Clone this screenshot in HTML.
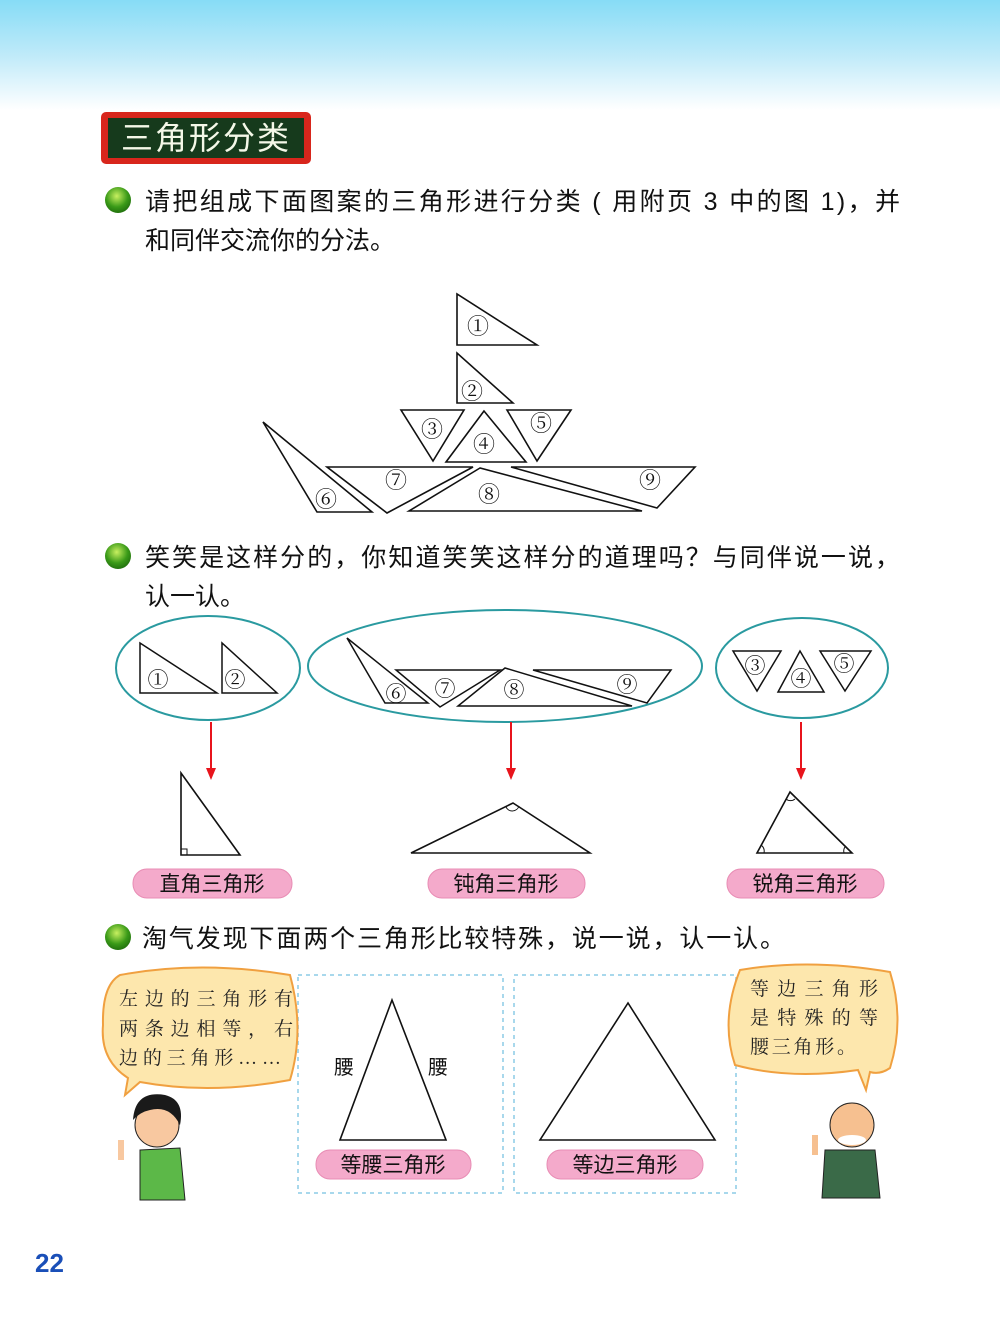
<!DOCTYPE html>
<html><head><meta charset="utf-8"><style>
html,body{margin:0;padding:0;background:#fff;}
svg{display:block;}
text{font-family:"Liberation Sans","Noto Sans CJK SC",sans-serif;}
.n{font-family:"Liberation Serif","Noto Serif CJK SC",serif;}
</style></head><body>
<svg width="1000" height="1336" viewBox="0 0 1000 1336" xmlns="http://www.w3.org/2000/svg">
<defs>
<linearGradient id="sky" x1="0" y1="0" x2="0" y2="1">
<stop offset="0" stop-color="#86dcf6"/><stop offset="0.5" stop-color="#bfeaf9"/><stop offset="1" stop-color="#ffffff"/>
</linearGradient>
<radialGradient id="ball" cx="0.45" cy="0.35" r="0.7">
<stop offset="0" stop-color="#c8f060"/><stop offset="0.6" stop-color="#3a9a18"/><stop offset="1" stop-color="#1d6a0c"/>
</radialGradient>
</defs>
<rect x="0" y="0" width="1000" height="110" fill="url(#sky)"/>

<rect x="101" y="112" width="210" height="52" rx="5" fill="#d8261c"/>
<rect x="108" y="118" width="196" height="40" fill="#163a1c"/>
<text x="206" y="149" font-size="32" fill="#f4f8e8" text-anchor="middle" letter-spacing="2">三角形分类</text>

<circle cx="118" cy="200" r="13" fill="url(#ball)"/>
<text x="145" y="210" font-size="25" fill="#111" textLength="755" lengthAdjust="spacing">请把组成下面图案的三角形进行分类 ( 用附页 3 中的图 1)，并</text>
<text x="145" y="249" font-size="25" fill="#111">和同伴交流你的分法。</text>
<circle cx="118" cy="556" r="13" fill="url(#ball)"/>
<text x="145" y="566" font-size="25" fill="#111" textLength="755" lengthAdjust="spacing">笑笑是这样分的，你知道笑笑这样分的道理吗？与同伴说一说，</text>
<text x="145" y="605" font-size="25" fill="#111">认一认。</text>
<circle cx="118" cy="937" r="13" fill="url(#ball)"/>
<text x="142" y="947" font-size="25" fill="#111" textLength="643" lengthAdjust="spacing">淘气发现下面两个三角形比较特殊，说一说，认一认。</text>

<g fill="#fff" stroke="#111" stroke-width="1.6">
<polygon points="457,294 457,345 537,345"/>
<polygon points="457,353 457,403 513,403"/>
<polygon points="401,410 464,410 433,461"/>
<polygon points="484,411 446,462 526,462"/>
<polygon points="507,410 571,410 537,461"/>
<polygon points="263,422 317,512 372,512"/>
<polygon points="327,467 473,467 387,513"/>
<polygon points="480,468 409,511 642,511"/>
<polygon points="511,467 695,467 657,508"/>
</g>
<g font-size="22" fill="#111" text-anchor="middle">
<text class="n" x="478" y="334">①</text>
<text class="n" x="472" y="399">②</text>
<text class="n" x="432" y="437">③</text>
<text class="n" x="484" y="452">④</text>
<text class="n" x="541" y="431">⑤</text>
<text class="n" x="326" y="507">⑥</text>
<text class="n" x="396" y="488">⑦</text>
<text class="n" x="489" y="502">⑧</text>
<text class="n" x="650" y="488">⑨</text>
</g>

<g fill="none" stroke="#2a9aa0" stroke-width="2">
<ellipse cx="208" cy="668" rx="92" ry="52"/>
<ellipse cx="505" cy="666" rx="197" ry="56"/>
<ellipse cx="802" cy="668" rx="86" ry="50"/>
</g>
<g fill="#fff" stroke="#111" stroke-width="1.5">
<polygon points="140,643 140,693 217,693"/>
<polygon points="222,643 222,693 277,693"/>
<polygon points="347,638 385,703 428,703"/>
<polygon points="396,670 500,670 440,707"/>
<polygon points="505,668 458,706 632,706"/>
<polygon points="533,670 671,670 647,703"/>
<polygon points="733,651 781,651 757,691"/>
<polygon points="800,651 778,692 824,692"/>
<polygon points="820,651 871,651 845,691"/>
</g>
<g font-size="21" fill="#111" text-anchor="middle">
<text class="n" x="158" y="687">①</text>
<text class="n" x="235" y="687">②</text>
<text class="n" x="396" y="701">⑥</text>
<text class="n" x="445" y="696">⑦</text>
<text class="n" x="514" y="697">⑧</text>
<text class="n" x="627" y="692">⑨</text>
<text class="n" x="755" y="673">③</text>
<text class="n" x="801" y="686">④</text>
<text class="n" x="844" y="671">⑤</text>
</g>

<g stroke="#e8141c" stroke-width="2">
<line x1="211" y1="722" x2="211" y2="770"/>
<line x1="511" y1="722" x2="511" y2="770"/>
<line x1="801" y1="722" x2="801" y2="770"/>
</g>
<g fill="#e8141c">
<polygon points="206,768 216,768 211,780"/>
<polygon points="506,768 516,768 511,780"/>
<polygon points="796,768 806,768 801,780"/>
</g>

<g fill="none" stroke="#111" stroke-width="1.6">
<polygon points="181,773 181,855 240,855"/>
<polyline points="181,849 187,849 187,855" stroke-width="1"/>
<polygon points="411,853 513,803 590,853"/>
<path d="M506,807 A7,7 0 0 0 519,806" stroke-width="1"/>
<polygon points="790,792 757,853 852,853"/>
<path d="M786,799 A7,7 0 0 0 795,799" stroke-width="1"/>
<path d="M761,845 A8,8 0 0 1 764,853" stroke-width="1"/>
<path d="M846,846 A7,7 0 0 0 844,853" stroke-width="1"/>
</g>

<g fill="#f4aacb" stroke="#e88cb4" stroke-width="1">
<rect x="133" y="869" width="159" height="29" rx="14"/>
<rect x="428" y="869" width="157" height="29" rx="14"/>
<rect x="727" y="869" width="157" height="29" rx="14"/>
<rect x="316" y="1150" width="155" height="29" rx="14"/>
<rect x="547" y="1150" width="156" height="29" rx="14"/>
</g>
<g font-size="21" fill="#111" text-anchor="middle">
<text x="212" y="891">直角三角形</text>
<text x="506" y="891">钝角三角形</text>
<text x="805" y="891">锐角三角形</text>
<text x="393" y="1172">等腰三角形</text>
<text x="625" y="1172">等边三角形</text>
</g>

<g fill="none" stroke="#a8d8ec" stroke-width="2" stroke-dasharray="4,4">
<rect x="298" y="975" width="205" height="218"/>
<rect x="514" y="975" width="222" height="218"/>
</g>
<g fill="none" stroke="#111" stroke-width="1.6">
<polygon points="392,1000 340,1140 446,1140"/>
<polygon points="628,1003 540,1140 715,1140"/>
</g>
<text x="344" y="1074" font-size="20" fill="#111" text-anchor="middle">腰</text>
<text x="438" y="1074" font-size="20" fill="#111" text-anchor="middle">腰</text>

<path d="M120,975 Q200,960 290,975 Q305,1030 290,1080 Q210,1095 140,1082 L125,1095 L128,1078 Q100,1060 103,1025 Q102,985 120,975 Z" fill="#fde7ad" stroke="#f0a040" stroke-width="2"/>
<g font-size="19" fill="#222">
<text class="n" x="119" y="1005" textLength="174" lengthAdjust="spacing">左边的三角形有</text>
<text class="n" x="119" y="1035" textLength="174" lengthAdjust="spacing">两条边相等，右</text>
<text class="n" x="119" y="1064" textLength="162" lengthAdjust="spacing">边的三角形……</text>
</g>
<path d="M740,970 Q810,958 890,972 Q905,1020 890,1068 Q880,1075 870,1072 L866,1090 L858,1070 Q790,1080 735,1065 Q720,1020 740,970 Z" fill="#fde7ad" stroke="#f0a040" stroke-width="2"/>
<g font-size="19" fill="#222">
<text class="n" x="750" y="995" textLength="128" lengthAdjust="spacing">等边三角形</text>
<text class="n" x="750" y="1024" textLength="128" lengthAdjust="spacing">是特殊的等</text>
<text class="n" x="750" y="1053" textLength="106" lengthAdjust="spacing">腰三角形。</text>
</g>

<g>
<path d="M140,1150 L180,1148 L185,1200 L140,1200 Z" fill="#5cb848" stroke="#222" stroke-width="1"/>
<circle cx="157" cy="1125" r="22" fill="#f8c8a0" stroke="#222" stroke-width="1"/>
<path d="M133,1120 Q135,1090 165,1095 Q185,1100 180,1125 Q170,1105 150,1110 Q140,1112 133,1120 Z" fill="#1a1a1a"/>
<rect x="118" y="1140" width="6" height="20" fill="#f8c8a0"/>
</g>
<g>
<path d="M825,1150 L875,1150 L880,1198 L822,1198 Z" fill="#3a6a48" stroke="#222" stroke-width="1"/>
<circle cx="852" cy="1125" r="22" fill="#f6c090" stroke="#222" stroke-width="1"/>
<ellipse cx="852" cy="1140" rx="14" ry="5" fill="#fff"/>
<rect x="812" y="1135" width="6" height="20" fill="#f6c090"/>
</g>

<text x="35" y="1272" font-size="26" font-weight="bold" fill="#1a4fb8">22</text>
</svg>
</body></html>
